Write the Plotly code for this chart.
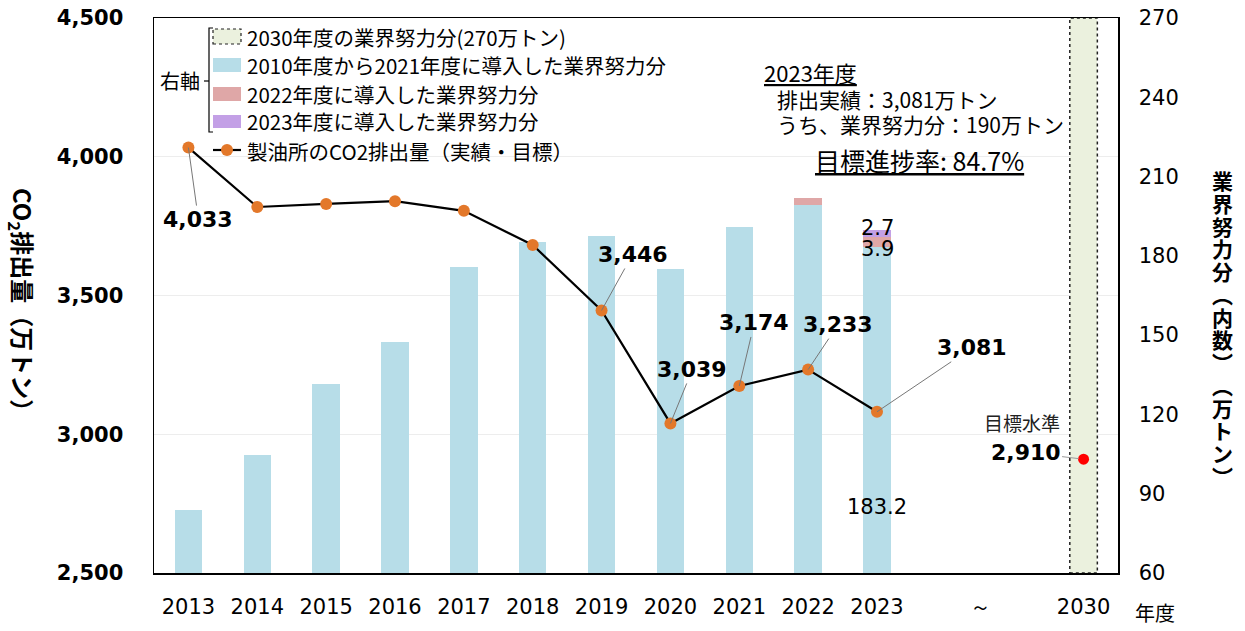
import plotly.graph_objects as go

# ---------------- data ----------------
categories = ["2013", "2014", "2015", "2016", "2017", "2018", "2019", "2020",
              "2021", "2022", "2023", "", "", "2030"]
tick_labels = ["2013", "2014", "2015", "2016", "2017", "2018", "2019", "2020",
               "2021", "2022", "2023", "～", "2030"]
tick_positions = list(range(11)) + [11.5, 13]

emissions = [4033, 3819, 3830, 3840, 3805, 3682, 3446, 3039, 3174, 3233, 3081]
emission_labels = {0: "4,033", 6: "3,446", 7: "3,039", 8: "3,174", 9: "3,233", 10: "3,081"}
target_2030 = 2910
target_label = "2,910"

effort_2010_2021 = [83.8, 104.6, 131.5, 147.4, 175.8, 185.2, 187.5, 175.0, 190.9, 199.2, 183.2]
effort_2022 = [0, 0, 0, 0, 0, 0, 0, 0, 0, 2.6, 3.9]
effort_2023 = [0, 0, 0, 0, 0, 0, 0, 0, 0, 0, 2.7]
effort_2030 = 270

left_ticks = [2500, 3000, 3500, 4000, 4500]
right_ticks = [60, 90, 120, 150, 180, 210, 240, 270]
left_range = [2500, 4500]
right_range = [60, 270]

# ---------------- style ----------------
C_BLUE = "#B7DDE8"
C_PINK = "#DFA7A7"
C_PURPLE = "#C3A0E6"
C_GREEN = "#EBF1DE"
C_ORANGE = "#E3782A"
NUM = "DejaVu Sans"
JP = "Noto Sans CJK JP"
BAR_W = 0.4

# plot-area edges in page pixels (page body margin removed below)
L, R, T, B = 154, 1118, 18, 573
W, H = 1245, 631


def px(x):
    return (x - L) / (R - L)


def py(y):
    return (B - y) / (B - T)


idx_years = list(range(len(emissions)))
idx_2030 = categories.index("2030")

fig = go.Figure()

# bars on the (right-side) primary axis
fig.add_bar(x=idx_years, y=effort_2010_2021, width=BAR_W, marker=dict(color=C_BLUE, line_width=0),
            yaxis="y", hoverinfo="skip")
fig.add_bar(x=idx_years, y=effort_2022, width=BAR_W, marker=dict(color=C_PINK, line_width=0),
            yaxis="y", hoverinfo="skip")
fig.add_bar(x=idx_years, y=effort_2023, width=BAR_W, marker=dict(color=C_PURPLE, line_width=0),
            yaxis="y", hoverinfo="skip")
fig.add_bar(x=[idx_2030], y=[effort_2030], width=BAR_W, marker=dict(color=C_GREEN, line_width=0),
            yaxis="y", hoverinfo="skip")

# emissions line on the left axis (overlay so it sits on top of bars)
fig.add_scatter(x=idx_years, y=emissions, yaxis="y2", mode="lines+markers",
                line=dict(color="black", width=2.2),
                marker=dict(color=C_ORANGE, size=12), hoverinfo="skip")
fig.add_scatter(x=[idx_2030], y=[target_2030], yaxis="y2", mode="markers",
                marker=dict(color="#FF0000", size=11), hoverinfo="skip")


# gridline positions (left-axis ticks expressed on the right axis scale)
def left_to_right(v):
    return right_range[0] + (v - left_range[0]) * (right_range[1] - right_range[0]) / (left_range[1] - left_range[0])


grid_vals = [left_to_right(v) for v in left_ticks[1:-1]]

fig.update_layout(
    width=W, height=H,
    margin=dict(l=L, r=W - R, t=T, b=H - B, autoexpand=False),
    plot_bgcolor="white", paper_bgcolor="white",
    barmode="stack", showlegend=False,
    xaxis=dict(range=[-0.5, len(categories) - 0.5], tickmode="array",
               tickvals=tick_positions, ticktext=tick_labels,
               tickfont=dict(family=NUM, size=21, color="black"),
               showline=True, linecolor="black", linewidth=1.5, mirror=True,
               showgrid=False, zeroline=False, ticks="", ticklabelstandoff=14,
               automargin=False, ticklabeloverflow="allow"),
    yaxis=dict(side="right", range=right_range, tickmode="array", tickvals=right_ticks,
               tickfont=dict(family=NUM, size=21, color="black"),
               showline=True, linecolor="black", linewidth=1.5, mirror=True,
               showgrid=False, zeroline=False, ticks="", ticklabelstandoff=15,
               automargin=False, ticklabeloverflow="allow",
               minor=dict(tickmode="array", tickvals=grid_vals, showgrid=True,
                          gridcolor="#EDEDED", gridwidth=1, ticks="")),
    yaxis2=dict(side="left", overlaying="y", range=left_range, tickmode="array",
                tickvals=left_ticks, tickformat=",",
                tickfont=dict(family=NUM, size=21, color="black", weight="bold"),
                showline=True, linecolor="black", linewidth=1.5,
                showgrid=False, zeroline=False, ticks="", ticklabelstandoff=25,
                automargin=False, ticklabeloverflow="allow"),
)

shapes = []
annotations = []


def note(x, y, text, size, family=JP, color="black", xanchor="center", **kw):
    annotations.append(dict(x=px(x), y=py(y), xref="paper", yref="paper", text=text,
                            xanchor=xanchor, yanchor="middle", showarrow=False,
                            font=dict(family=family, size=size, color=color), **kw))


# dotted outline of the 2030 bar
shapes.append(dict(type="rect", xref="x", yref="y",
                   x0=idx_2030 - BAR_W / 2, x1=idx_2030 + BAR_W / 2,
                   y0=right_range[0], y1=effort_2030,
                   line=dict(color="#222222", width=1.5, dash="dot"), fillcolor="rgba(0,0,0,0)"))

# emission data labels with leader lines
label_offsets = {0: (10, 72), 6: (31, -56), 7: (22, -54), 8: (15, -63), 9: (30, -45), 10: (95, -64)}
for i, txt in emission_labels.items():
    ax, ay = label_offsets[i]
    annotations.append(dict(x=i, y=emissions[i], xref="x", yref="y2", text=txt,
                            showarrow=True, arrowhead=0, arrowwidth=1, arrowcolor="#777777",
                            ax=ax, ay=ay, standoff=0,
                            font=dict(family=NUM, size=22, color="black", weight="bold")))
annotations.append(dict(x=idx_2030, y=target_2030, xref="x", yref="y2", text=target_label,
                        showarrow=True, arrowhead=0, arrowwidth=1, arrowcolor="#999999",
                        ax=-58, ay=-7, standoff=5,
                        font=dict(family=NUM, size=22, color="black", weight="bold")))
note(1022, 422, "目標水準", 19, color="#222222")

# bar value labels for 2023
i23 = len(effort_2010_2021) - 1
annotations.append(dict(x=i23, y=right_range[0], xref="x", yref="y", text=f"{effort_2010_2021[i23]:.1f}",
                        showarrow=False, yshift=66, font=dict(family=NUM, size=21, color="black")))
annotations.append(dict(x=i23, y=effort_2010_2021[i23] + effort_2022[i23] / 2, xref="x", yref="y",
                        text=f"{effort_2022[i23]:.1f}", showarrow=False, yshift=-7,
                        font=dict(family=NUM, size=21, color="black")))
annotations.append(dict(x=i23, y=effort_2010_2021[i23] + effort_2022[i23] + effort_2023[i23] / 2,
                        xref="x", yref="y", text=f"{effort_2023[i23]:.1f}", showarrow=False, yshift=6,
                        font=dict(family=NUM, size=21, color="black")))

# ---------------- manual legend ----------------
legend_items = [
    ("2030年度の業界努力分(270万トン)", C_GREEN, (29, 44), True),
    ("2010年度から2021年度に導入した業界努力分", C_BLUE, (58, 72), False),
    ("2022年度に導入した業界努力分", C_PINK, (87, 101), False),
    ("2023年度に導入した業界努力分", C_PURPLE, (115, 128), False),
]
for text, color, (y0, y1), dotted in legend_items:
    shapes.append(dict(type="rect", xref="paper", yref="paper",
                       x0=px(213), x1=px(241), y0=py(y1), y1=py(y0),
                       fillcolor=color,
                       line=dict(color="#222222", width=1.2, dash="dot") if dotted else dict(width=0)))
    note(245, (y0 + y1) / 2, text, 20.5, xanchor="left")
# line item
shapes.append(dict(type="line", xref="paper", yref="paper", x0=px(213), x1=px(241), y0=py(150), y1=py(150),
                   line=dict(color="black", width=2.2)))
shapes.append(dict(type="circle", xref="paper", yref="paper", x0=px(221), x1=px(233), y0=py(156), y1=py(144),
                   fillcolor=C_ORANGE, line=dict(width=0)))
note(245, 151, "製油所のCO2排出量（実績・目標）", 20.5, xanchor="left")
# bracket
shapes.append(dict(type="path", xref="paper", yref="paper",
                   path=f"M {px(213)},{py(28)} L {px(209)},{py(28)} L {px(209)},{py(132)} L {px(213)},{py(132)}",
                   line=dict(color="black", width=1.2)))
shapes.append(dict(type="line", xref="paper", yref="paper", x0=px(204), x1=px(209), y0=py(81), y1=py(81),
                   line=dict(color="black", width=1.2)))
note(202, 81, "右軸", 20, xanchor="right")

# ---------------- info text ----------------
note(762, 72, "<u>2023年度</u>", 22, xanchor="left")
note(775, 99, "排出実績：3,081万トン", 21, xanchor="left")
note(775, 124, "うち、業界努力分：190万トン", 21, xanchor="left")
note(813, 160, "<u>目標進捗率: 84.7%</u>", 25, xanchor="left")

# axis titles
note(22, 305, "<b>CO<sub>2</sub>排出量（万トン）</b>", 24, textangle=90)

right_title_chars = ["業", "界", "努", "力", "分", "︵", "内", "数", "︶", "︵", "万", "ト", "ン", "︶"]
right_title = "<br>".join(f"<span style='font-size:21px'><b>{c}</b></span>" for c in right_title_chars)
note(1222, 328, right_title, 17.5)

note(1155, 612, "年度", 20)

fig.update_layout(shapes=shapes, annotations=annotations)
fig.write_html("out.html", config={"displayModeBar": False, "staticPlot": True},
               post_script="document.body.style.margin='0';document.body.style.overflow='hidden';")
